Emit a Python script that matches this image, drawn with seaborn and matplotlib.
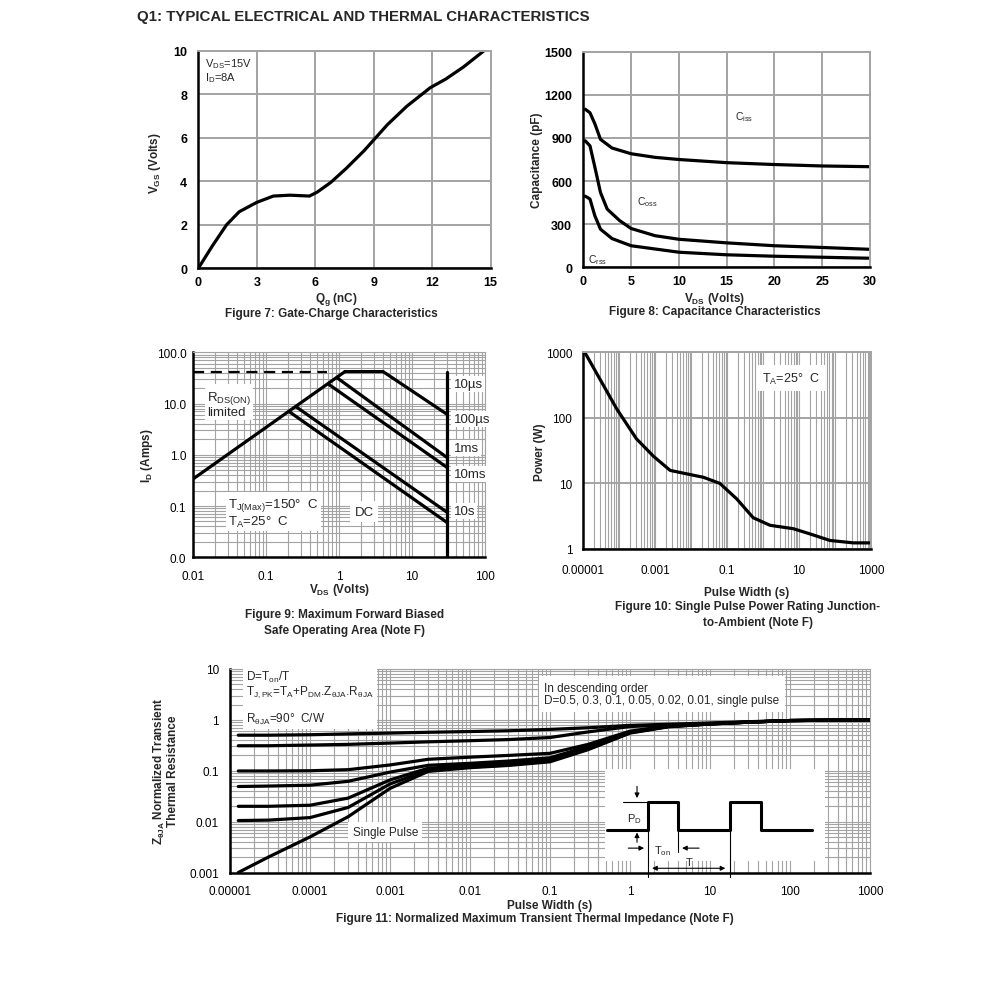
import matplotlib
matplotlib.use("Agg")
import matplotlib.pyplot as plt
import seaborn as sns
from matplotlib.ticker import LogLocator, NullFormatter

# Figure 7: gate charge
qg_nc = [0, 0.7, 1.45, 2.1, 3.0, 3.85, 4.7, 5.7, 6.1, 6.8, 7.6, 8.5, 9.0, 9.7, 10.7, 11.9, 12.7, 13.6, 14.66]
vgs_v = [0, 1.0, 2.0, 2.6, 3.03, 3.32, 3.36, 3.32, 3.5, 3.95, 4.6, 5.4, 5.9, 6.6, 7.45, 8.3, 8.7, 9.25, 10.0]

# Figure 8: capacitance
vds_ciss = [0.2, 0.7, 1.2, 1.8, 3, 5, 7.5, 10, 15, 20, 25, 30]
ciss_pf = [1100, 1075, 1000, 890, 830, 790, 765, 750, 728, 715, 705, 700]
vds_coss = [0.2, 0.7, 1.2, 1.8, 2.5, 3.8, 5, 7.5, 10, 15, 20, 25, 30]
coss_pf = [880, 845, 700, 520, 405, 325, 270, 220, 195, 170, 150, 138, 125]
vds_crss = [0.2, 0.7, 1.2, 1.8, 3, 5, 10, 15, 20, 25, 30]
crss_pf = [495, 475, 360, 265, 200, 150, 105, 87, 77, 70, 63]

# Figure 9: safe operating area
rds_v, rds_a = [0.01, 1.2], [0.34, 42]
rds_dash_v, rds_dash_a = [0.01, 0.68], [42, 42]
soa_10us_v, soa_10us_a = [1.2, 4.0, 30], [42, 42, 6.2]
soa_100us_v, soa_100us_a = [0.93, 30], [32, 0.89]
soa_1ms_v, soa_1ms_a = [0.71, 30], [24, 0.57]
soa_10ms_v, soa_10ms_a = [0.255, 30], [8.7, 0.076]
soa_dc_v, soa_dc_a = [0.205, 30], [7.0, 0.048]
vmax_v, vmax_a = [30, 30], [42, 0.01]
soa_labels = ["10µs", "100µs", "1ms", "10ms", "10s"]
soa_label_a = [24, 5.0, 1.34, 0.42, 0.081]

# Figure 10: single pulse power
pulse_s = [1.1e-5, 8.5e-5, 3e-4, 8.9e-4, 2.6e-3, 7.5e-3, 0.022, 0.063, 0.185, 0.53, 1.55, 6.9, 20, 72, 323, 1000]
power_w = [1000, 137, 48, 26, 15.8, 14, 12.4, 10, 5.8, 3.0, 2.3, 2.04, 1.7, 1.35, 1.24, 1.24]

# Figure 11: normalized transient thermal impedance
zth_s = [1.27e-5, 3e-5, 1e-4, 3e-4, 1e-3, 3e-3, 1e-2, 3e-2, 0.1, 0.3, 1, 3, 10, 30, 100, 1000]
z_d050 = [0.50, 0.50, 0.51, 0.53, 0.55, 0.57, 0.59, 0.61, 0.65, 0.70, 0.78, 0.82, 0.87, 0.92, 0.97, 1.0]
z_d030 = [0.31, 0.31, 0.32, 0.33, 0.35, 0.37, 0.39, 0.41, 0.45, 0.58, 0.74, 0.79, 0.85, 0.91, 0.97, 1.0]
z_d010 = [0.099, 0.099, 0.10, 0.105, 0.13, 0.168, 0.185, 0.20, 0.22, 0.33, 0.60, 0.76, 0.84, 0.90, 0.97, 1.0]
z_d005 = [0.049, 0.05, 0.052, 0.062, 0.094, 0.128, 0.14, 0.155, 0.18, 0.30, 0.58, 0.75, 0.84, 0.90, 0.97, 1.0]
z_d002 = [0.020, 0.020, 0.021, 0.029, 0.066, 0.112, 0.127, 0.14, 0.165, 0.28, 0.57, 0.74, 0.83, 0.90, 0.97, 1.0]
z_d001 = [0.0105, 0.0107, 0.012, 0.019, 0.055, 0.103, 0.118, 0.13, 0.155, 0.27, 0.56, 0.74, 0.83, 0.90, 0.97, 1.0]
z_single = [0.001, 0.002, 0.005, 0.0125, 0.045, 0.097, 0.115, 0.127, 0.15, 0.26, 0.55, 0.73, 0.83, 0.90, 0.97, 1.0]

# pulse train sketch (time in units of T)
pulse_t = [-0.5, 0, 0, 0.37, 0.37, 1, 1, 1.38, 1.38, 2.0]
pulse_level = [0, 0, 1, 1, 0, 0, 1, 1, 0, 0]

sns.set_style("white")
plt.rcParams["font.family"] = ["Liberation Sans", "DejaVu Sans"]
plt.rcParams["mathtext.default"] = "regular"

W, H = 991, 987
fig = plt.figure(figsize=(W / 100, H / 100), dpi=100)
GRID = "#a3a3a3"
FS = 8.5
LW = 2.3


def box(l, t, r, b):
    return [l / W, 1 - b / H, (r - l) / W, (b - t) / H]


def ftext(x, y, s, **kw):
    kw.setdefault("ha", "center")
    kw.setdefault("va", "center")
    kw.setdefault("fontsize", FS)
    fig.text(x / W, 1 - y / H, s, **kw)


def frame(ax, grid_lw, xpad, ypad, size=FS):
    for side in ["left", "bottom"]:
        ax.spines[side].set_color("black")
        ax.spines[side].set_linewidth(1.8)
    for side in ["top", "right"]:
        ax.spines[side].set_color(GRID)
        ax.spines[side].set_linewidth(grid_lw)
    ax.tick_params(which="both", length=0, labelsize=size, colors="black")
    ax.tick_params(axis="x", pad=xpad)
    ax.tick_params(axis="y", pad=ypad)
    ax.set_xlabel("")
    ax.set_ylabel("")


def line(ax, x, y, **kw):
    kw.setdefault("linewidth", LW)
    sns.lineplot(x=x, y=y, ax=ax, color="black", estimator=None, sort=False, **kw)


def log_grid(ax):
    for axis in [ax.xaxis, ax.yaxis]:
        axis.set_minor_locator(LogLocator(base=10, subs=range(2, 10), numticks=30))
        axis.set_minor_formatter(NullFormatter())


wbox = dict(facecolor="white", edgecolor="none", pad=1.5)

# ---------------- Figure 7 ----------------
ax7 = fig.add_axes(box(198.3, 51.7, 490.7, 269.3))
ax7.set_xlim(0, 15)
ax7.set_ylim(0, 10)
ax7.set_xticks([0, 3, 6, 9, 12, 15])
ax7.set_yticks([0, 2, 4, 6, 8, 10])
ax7.grid(True, color=GRID, linewidth=1.4)
line(ax7, qg_nc, vgs_v)
frame(ax7, 1.4, 5.5, 8, size=9)
for lab in ax7.get_xticklabels() + ax7.get_yticklabels():
    lab.set_fontweight("bold")
ax7.text(0.35, 9.75, "V$_{DS}$=15V\nI$_D$=8A", fontsize=8, va="top", ha="left", linespacing=1.0)
ftext(155, 163, "V$_{GS}$ (Volts)", rotation=90, fontweight="bold")
ftext(336, 300, "Q$_g$ (nC)", fontweight="bold")
ftext(331, 314, "Figure 7: Gate-Charge Characteristics", fontweight="bold")

# ---------------- Figure 8 ----------------
ax8 = fig.add_axes(box(583.3, 52.7, 870, 268.3))
ax8.set_xlim(0, 30)
ax8.set_ylim(0, 1500)
ax8.set_xticks([0, 5, 10, 15, 20, 25, 30])
ax8.set_yticks([0, 300, 600, 900, 1200, 1500])
ax8.grid(True, color=GRID, linewidth=1.4)
line(ax8, vds_ciss, ciss_pf)
line(ax8, vds_coss, coss_pf)
line(ax8, vds_crss, crss_pf)
frame(ax8, 1.4, 5.5, 8, size=9)
for lab in ax8.get_xticklabels() + ax8.get_yticklabels():
    lab.set_fontweight("bold")
ax8.text(15.9, 1055, "C$_{iss}$", fontsize=7.5, va="center", ha="left")
ax8.text(5.6, 463, "C$_{oss}$", fontsize=7.5, va="center", ha="left")
ax8.text(0.5, 58, "C$_{rss}$", fontsize=7.5, va="center", ha="left")
ftext(537, 160, "Capacitance (pF)", rotation=90, fontweight="bold")
ftext(715, 299, "V$_{DS}$ (Volts)", fontweight="bold")
ftext(715, 312, "Figure 8: Capacitance Characteristics", fontweight="bold")

# ---------------- Figure 9 ----------------
ax9 = fig.add_axes(box(193.3, 353.3, 485, 558.3))
ax9.set_xscale("log")
ax9.set_yscale("log")
ax9.set_xlim(0.01, 100)
ax9.set_ylim(0.01, 100)
ax9.set_xticks([0.01, 0.1, 1, 10, 100], ["0.01", "0.1", "1", "10", "100"])
ax9.set_yticks([0.01, 0.1, 1, 10, 100], ["0.0", "0.1", "1.0", "10.0", "100.0"])
log_grid(ax9)
ax9.grid(True, which="both", color=GRID, linewidth=0.8)
line(ax9, rds_dash_v, rds_dash_a, linestyle=(0, (5, 3)), linewidth=1.6)
line(ax9, rds_v, rds_a)
line(ax9, soa_10us_v, soa_10us_a)
line(ax9, soa_100us_v, soa_100us_a)
line(ax9, soa_1ms_v, soa_1ms_a)
line(ax9, soa_10ms_v, soa_10ms_a)
line(ax9, soa_dc_v, soa_dc_a)
line(ax9, vmax_v, vmax_a)
frame(ax9, 0.8, 9, 5)
for lab, a in zip(soa_labels, soa_label_a):
    ax9.text(37, a, lab, fontsize=9.5, va="center", ha="left", bbox=wbox)
ax9.text(0.0155, 10, "R$_{DS(ON)}$\nlimited", fontsize=9.5, va="center", ha="left",
         linespacing=0.9, bbox=wbox)
ax9.text(0.03, 0.075, "T$_{J(Max)}$=150°  C\nT$_A$=25°  C", fontsize=9.5, va="center",
         ha="left", linespacing=1.0, bbox=wbox)
ax9.text(2.2, 0.078, "DC", fontsize=9.5, va="center", ha="center",
         bbox=dict(facecolor="white", edgecolor="none", pad=3))
ftext(147, 456, "I$_D$ (Amps)", rotation=90, fontweight="bold")
ftext(340, 590, "V$_{DS}$ (Volts)", fontweight="bold")
ftext(345, 615, "Figure 9: Maximum Forward Biased", fontweight="bold")
ftext(345, 631, "Safe Operating Area (Note F)", fontweight="bold")

# ---------------- Figure 10 ----------------
ax10 = fig.add_axes(box(583.3, 353.3, 871, 550))
ax10.set_xscale("log")
ax10.set_yscale("log")
ax10.set_xlim(1e-5, 1000)
ax10.set_ylim(1, 1000)
ax10.set_xticks([1e-5, 1e-3, 0.1, 10, 1000], ["0.00001", "0.001", "0.1", "10", "1000"])
ax10.xaxis.set_minor_locator(LogLocator(base=10, subs=range(1, 10), numticks=40))
ax10.xaxis.set_minor_formatter(NullFormatter())
ax10.set_yticks([1, 10, 100, 1000], ["1", "10", "100", "1000"])
ax10.yaxis.set_minor_locator(plt.NullLocator())
ax10.grid(True, which="both", axis="x", color=GRID, linewidth=0.8)
ax10.grid(True, which="major", axis="y", color=GRID, linewidth=1.4)
line(ax10, pulse_s, power_w)
frame(ax10, 1.4, 11, 8)
ax10.text(0.95, 400, "T$_A$=25°  C", fontsize=9, va="center", ha="left",
          bbox=dict(facecolor="white", edgecolor="none", pad=4))
ftext(540, 452, "Power (W)", rotation=90, fontweight="bold")
ftext(747, 593, "Pulse Width (s)", fontweight="bold")
ftext(748, 607, "Figure 10: Single Pulse Power Rating Junction-", fontweight="bold")
ftext(758, 623, "to-Ambient (Note F)", fontweight="bold")

# ---------------- Figure 11 ----------------
ax11 = fig.add_axes(box(230, 670, 870, 873.5))
ax11.set_xscale("log")
ax11.set_yscale("log")
ax11.set_xlim(1e-5, 1000)
ax11.set_ylim(0.001, 10)
xt = [1e-5, 1e-4, 1e-3, 1e-2, 0.1, 1, 10, 100, 1000]
ax11.set_xticks(xt, ["0.00001", "0.0001", "0.001", "0.01", "0.1", "1", "10", "100", "1000"])
ax11.set_yticks([0.001, 0.01, 0.1, 1, 10], ["0.001", "0.01", "0.1", "1", "10"])
log_grid(ax11)
ax11.grid(True, which="both", color=GRID, linewidth=0.8)
for z in [z_d050, z_d030, z_d010, z_d005, z_d002, z_d001, z_single]:
    line(ax11, zth_s, z, zorder=4)
frame(ax11, 0.8, 9, 8)
ax11.text(1.6e-5, 2.75, "D=T$_{on}$/T\nT$_{J,PK}$=T$_A$+P$_{DM}$.Z$_{θJA}$.R$_{θJA}$\n\nR$_{θJA}$=90°  C/W",
          fontsize=8.5, va="center", ha="left", linespacing=1.0,
          bbox=dict(facecolor="white", edgecolor="none", pad=2))
ax11.text(0.085, 3.2, "In descending order\nD=0.5, 0.3, 0.1, 0.05, 0.02, 0.01, single pulse",
          fontsize=8.5, va="center", ha="left", linespacing=1.05,
          bbox=dict(facecolor="white", edgecolor="none", pad=4))
ax11.text(3.4e-4, 0.0062, "Single Pulse", fontsize=8.5, va="center", ha="left",
          bbox=dict(facecolor="white", edgecolor="none", pad=3))
ftext(159, 771, "Z$_{θJA}$ Normalized Transient", rotation=90, fontweight="bold")
ftext(173, 771, "Thermal Resistance", rotation=90, fontweight="bold")
ftext(550, 906, "Pulse Width (s)", fontweight="bold")
ftext(535, 919, "Figure 11: Normalized Maximum Transient Thermal Impedance (Note F)", fontweight="bold")

# inset: pulse train sketch
ins = fig.add_axes(box(605, 770, 825, 862), zorder=5)
ins.set_facecolor("white")
for s in ins.spines.values():
    s.set_visible(False)
ins.set_xticks([])
ins.set_yticks([])
ins.set_xlim(-0.52, 2.16)
ins.set_ylim(-1.12, 2.17)
line(ins, pulse_t, pulse_level, linewidth=2.2)
thin = dict(color="black", linewidth=0.8, clip_on=False)
arr = dict(arrowstyle="-|>", color="black", lw=0.8, mutation_scale=7)
ins.plot([-0.30, 0], [1, 1], **thin)
ins.plot([0, 0], [0, -1.69], **thin)
ins.plot([0.37, 0.37], [0, -0.8], **thin)
ins.plot([1, 1], [0, -1.69], **thin)
ins.annotate("", xy=(-0.13, 1.03), xytext=(-0.13, 1.65), arrowprops=arr)
ins.annotate("", xy=(-0.13, 0.0), xytext=(-0.13, -0.55), arrowprops=arr)
ins.text(-0.16, 0.42, "P$_D$", fontsize=8, ha="center", va="center")
ins.annotate("", xy=(-0.01, -0.66), xytext=(-0.27, -0.66), arrowprops=arr)
ins.annotate("", xy=(0.385, -0.66), xytext=(0.66, -0.66), arrowprops=arr)
ins.text(0.18, -0.74, "T$_{on}$", fontsize=8, ha="center", va="center")
ins.annotate("", xy=(0.02, -1.38), xytext=(0.98, -1.38), annotation_clip=False,
             arrowprops=dict(arrowstyle="<|-|>", color="black", lw=0.8, mutation_scale=7))
ins.text(0.51, -1.15, "T", fontsize=8, ha="center", va="center")

ftext(137, 17, "Q1: TYPICAL ELECTRICAL AND THERMAL CHARACTERISTICS", ha="left",
      fontsize=10.8, fontweight="bold")

fig.savefig("out.png", dpi=100, facecolor="white")
